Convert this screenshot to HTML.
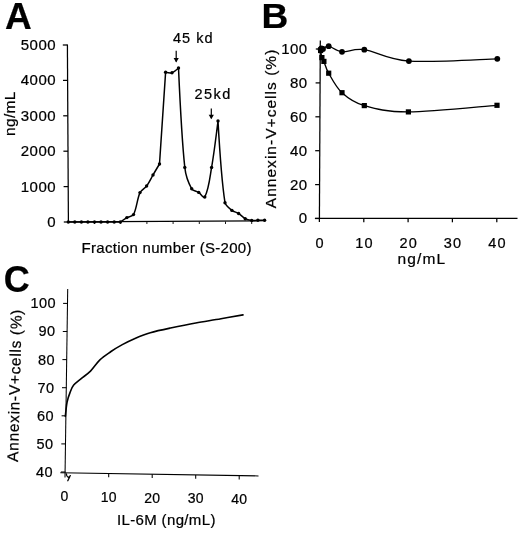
<!DOCTYPE html>
<html><head><meta charset="utf-8"><title>Figure</title>
<style>
html,body{margin:0;padding:0;background:#fff;}
svg{display:block;filter:blur(0.3px);}
text{font-family:"Liberation Sans",sans-serif;fill:#000;stroke:#000;stroke-width:0.22px;}
</style></head>
<body>
<svg width="520" height="535" viewBox="0 0 520 535">
<rect width="520" height="535" fill="#fff"/>
<text x="5.0" y="28.7" font-size="37" font-weight="bold">A</text>
<text transform="translate(261.5,28.0) scale(1.05,1)" font-size="35.3" font-weight="bold">B</text>
<text x="3.8" y="292.4" font-size="36" font-weight="bold">C</text>
<line x1="67.4" y1="44.5" x2="68.4" y2="222.5" stroke="#000" stroke-width="1.25"/>
<line x1="68.0" y1="221.9" x2="265.5" y2="220.7" stroke="#000" stroke-width="1.25"/>
<line x1="63.8" y1="222.0" x2="68.4" y2="222.0" stroke="#000" stroke-width="1.25"/>
<text x="56.0" y="227.0" font-size="15" text-anchor="end" letter-spacing="0.45">0</text>
<line x1="63.6" y1="186.6" x2="68.2" y2="186.6" stroke="#000" stroke-width="1.25"/>
<text x="56.0" y="191.6" font-size="15" text-anchor="end" letter-spacing="0.45">1000</text>
<line x1="63.4" y1="151.2" x2="68.0" y2="151.2" stroke="#000" stroke-width="1.25"/>
<text x="56.0" y="156.2" font-size="15" text-anchor="end" letter-spacing="0.45">2000</text>
<line x1="63.2" y1="115.8" x2="67.8" y2="115.8" stroke="#000" stroke-width="1.25"/>
<text x="56.0" y="120.8" font-size="15" text-anchor="end" letter-spacing="0.45">3000</text>
<line x1="63.0" y1="80.4" x2="67.6" y2="80.4" stroke="#000" stroke-width="1.25"/>
<text x="56.0" y="85.4" font-size="15" text-anchor="end" letter-spacing="0.45">4000</text>
<line x1="62.8" y1="45.0" x2="67.4" y2="45.0" stroke="#000" stroke-width="1.25"/>
<text x="56.0" y="50.0" font-size="15" text-anchor="end" letter-spacing="0.45">5000</text>
<line x1="94.5" y1="221.5" x2="94.5" y2="224.0" stroke="#000" stroke-width="0.9"/>
<line x1="120.7" y1="221.5" x2="120.7" y2="224.0" stroke="#000" stroke-width="0.9"/>
<line x1="146.9" y1="221.5" x2="146.9" y2="224.0" stroke="#000" stroke-width="0.9"/>
<line x1="173.1" y1="221.5" x2="173.1" y2="224.0" stroke="#000" stroke-width="0.9"/>
<line x1="199.3" y1="221.5" x2="199.3" y2="224.0" stroke="#000" stroke-width="0.9"/>
<line x1="225.5" y1="221.5" x2="225.5" y2="224.0" stroke="#000" stroke-width="0.9"/>
<line x1="251.7" y1="221.5" x2="251.7" y2="224.0" stroke="#000" stroke-width="0.9"/>
<path d="M68.3,222.0 C68.3,222.0 74.8,222.0 74.8,222.0 C74.8,222.0 81.4,222.0 81.4,222.0 C81.4,222.0 87.9,222.0 87.9,222.0 C87.9,222.0 94.5,222.0 94.5,222.0 C94.5,222.0 101.0,222.0 101.0,222.0 C101.0,222.0 107.6,222.0 107.6,222.0 C107.6,222.0 114.2,222.0 114.2,222.0 C114.2,222.0 120.3,222.0 120.3,222.0 C120.3,222.0 124.8,218.8 126.9,217.6 C128.8,216.5 132.5,216.5 133.5,214.6 C136.7,208.5 137.1,198.9 140.0,192.6 C141.2,190.1 144.9,188.3 146.6,186.0 C148.9,182.9 151.1,178.3 153.0,175.0 C154.9,171.7 159.5,164.0 159.5,164.0 C159.5,164.0 165.6,72.3 165.6,72.3 C165.6,72.3 170.2,73.4 172.0,72.8 C174.3,72.0 178.5,68.0 178.5,68.0 C178.5,68.0 181.6,137.7 184.8,167.4 C185.5,174.1 188.4,182.9 191.7,188.8 C192.8,190.9 196.7,191.1 198.7,192.4 C200.6,193.6 203.7,199.0 204.8,197.0 C209.0,188.9 210.0,176.4 211.6,167.4 C214.0,153.6 218.0,121.0 218.0,121.0 C218.0,121.0 221.2,178.4 225.0,202.7 C225.5,205.8 229.5,208.5 231.9,210.4 C233.6,211.8 236.7,212.3 238.6,213.5 C240.7,214.8 243.0,217.5 245.2,218.7 C247.0,219.7 249.7,220.2 251.7,220.5 C253.5,220.7 256.0,220.3 257.9,220.3 C259.9,220.3 264.6,220.3 264.6,220.3" fill="none" stroke="#000" stroke-width="1.5" stroke-linejoin="round" stroke-linecap="round"/>
<circle cx="68.3" cy="222.0" r="1.7" fill="#000"/>
<circle cx="74.8" cy="222.0" r="1.7" fill="#000"/>
<circle cx="81.4" cy="222.0" r="1.7" fill="#000"/>
<circle cx="87.9" cy="222.0" r="1.7" fill="#000"/>
<circle cx="94.5" cy="222.0" r="1.7" fill="#000"/>
<circle cx="101.0" cy="222.0" r="1.7" fill="#000"/>
<circle cx="107.6" cy="222.0" r="1.7" fill="#000"/>
<circle cx="114.2" cy="222.0" r="1.7" fill="#000"/>
<circle cx="120.3" cy="222.0" r="1.7" fill="#000"/>
<circle cx="126.9" cy="217.6" r="1.7" fill="#000"/>
<circle cx="133.5" cy="214.6" r="1.7" fill="#000"/>
<circle cx="140.0" cy="192.6" r="1.7" fill="#000"/>
<circle cx="146.6" cy="186.0" r="1.7" fill="#000"/>
<circle cx="153.0" cy="175.0" r="1.7" fill="#000"/>
<circle cx="159.5" cy="164.0" r="1.7" fill="#000"/>
<circle cx="165.6" cy="72.3" r="1.7" fill="#000"/>
<circle cx="172.0" cy="72.8" r="1.7" fill="#000"/>
<circle cx="178.5" cy="68.0" r="1.7" fill="#000"/>
<circle cx="184.8" cy="167.4" r="1.7" fill="#000"/>
<circle cx="191.7" cy="188.8" r="1.7" fill="#000"/>
<circle cx="198.7" cy="192.4" r="1.7" fill="#000"/>
<circle cx="204.8" cy="197.0" r="1.7" fill="#000"/>
<circle cx="211.6" cy="167.4" r="1.7" fill="#000"/>
<circle cx="218.0" cy="121.0" r="1.7" fill="#000"/>
<circle cx="225.0" cy="202.7" r="1.7" fill="#000"/>
<circle cx="231.9" cy="210.4" r="1.7" fill="#000"/>
<circle cx="238.6" cy="213.5" r="1.7" fill="#000"/>
<circle cx="245.2" cy="218.7" r="1.7" fill="#000"/>
<circle cx="251.7" cy="220.5" r="1.7" fill="#000"/>
<circle cx="257.9" cy="220.3" r="1.7" fill="#000"/>
<circle cx="264.6" cy="220.3" r="1.7" fill="#000"/>
<text x="173.0" y="43.3" font-size="14.5" letter-spacing="1.0">45 kd</text>
<text x="194.6" y="98.8" font-size="14.5" letter-spacing="1.4">25kd</text>
<line x1="176.2" y1="50.8" x2="176.2" y2="61.6" stroke="#000" stroke-width="1.2"/><path d="M173.6,58.1 L176.2,62.6 L178.79999999999998,58.1 Z" fill="#000"/>
<line x1="211.3" y1="108.4" x2="211.3" y2="118.2" stroke="#000" stroke-width="1.2"/><path d="M208.70000000000002,114.7 L211.3,119.2 L213.9,114.7 Z" fill="#000"/>
<text x="81.5" y="253.0" font-size="15" letter-spacing="0.3">Fraction number (S-200)</text>
<text transform="translate(15,135.9) rotate(-90)" font-size="15.5" letter-spacing="0.3" stroke-width="0.5">ng/mL</text>
<line x1="320.3" y1="40.5" x2="319.4" y2="222.0" stroke="#000" stroke-width="1.25"/>
<line x1="315.1" y1="218.3" x2="517.5" y2="218.3" stroke="#000" stroke-width="1.25"/>
<line x1="314.9" y1="218.5" x2="319.4" y2="218.5" stroke="#000" stroke-width="1.25"/>
<text x="307.6" y="223.4" font-size="15" text-anchor="end" letter-spacing="0.45">0</text>
<line x1="315.1" y1="184.6" x2="319.6" y2="184.6" stroke="#000" stroke-width="1.25"/>
<text x="307.6" y="189.5" font-size="15" text-anchor="end" letter-spacing="0.45">20</text>
<line x1="315.2" y1="150.7" x2="319.7" y2="150.7" stroke="#000" stroke-width="1.25"/>
<text x="307.6" y="155.6" font-size="15" text-anchor="end" letter-spacing="0.45">40</text>
<line x1="315.4" y1="116.8" x2="319.9" y2="116.8" stroke="#000" stroke-width="1.25"/>
<text x="307.6" y="121.7" font-size="15" text-anchor="end" letter-spacing="0.45">60</text>
<line x1="315.6" y1="82.9" x2="320.1" y2="82.9" stroke="#000" stroke-width="1.25"/>
<text x="307.6" y="87.8" font-size="15" text-anchor="end" letter-spacing="0.45">80</text>
<line x1="315.8" y1="49.0" x2="320.3" y2="49.0" stroke="#000" stroke-width="1.25"/>
<text x="307.6" y="53.9" font-size="15" text-anchor="end" letter-spacing="0.45">100</text>
<text x="320.1" y="247.6" font-size="14.5" text-anchor="middle" letter-spacing="1.2">0</text>
<line x1="363.8" y1="218.3" x2="363.8" y2="222.3" stroke="#000" stroke-width="1.25"/>
<text x="364.4" y="247.6" font-size="14.5" text-anchor="middle" letter-spacing="1.2">10</text>
<line x1="408.1" y1="218.3" x2="408.1" y2="222.3" stroke="#000" stroke-width="1.25"/>
<text x="408.8" y="247.6" font-size="14.5" text-anchor="middle" letter-spacing="1.2">20</text>
<line x1="452.4" y1="218.3" x2="452.4" y2="222.3" stroke="#000" stroke-width="1.25"/>
<text x="453.1" y="247.6" font-size="14.5" text-anchor="middle" letter-spacing="1.2">30</text>
<line x1="496.8" y1="218.3" x2="496.8" y2="222.3" stroke="#000" stroke-width="1.25"/>
<text x="497.5" y="247.6" font-size="14.5" text-anchor="middle" letter-spacing="1.2">40</text>
<text x="397.6" y="264.4" font-size="15.5" letter-spacing="1.1" stroke-width="0.55">ng/mL</text>
<text transform="translate(276.0,208.2) rotate(-90)" font-size="15.5" letter-spacing="1.03" stroke-width="0.6">Annexin-V+cells (%)</text>
<path d="M320.6,49.2 C320.8,49.1 321.1,48.5 321.5,48.5 C321.9,48.5 321.8,49.4 323.0,49.0 C324.2,48.6 325.5,45.7 328.7,46.2 C331.9,46.7 336.1,51.2 342.0,51.8 C347.9,52.4 353.2,48.2 364.3,49.7 C375.4,51.2 386.7,59.6 408.9,61.1 C431.1,62.6 482.6,59.2 497.3,58.8" fill="none" stroke="#000" stroke-width="1.35" stroke-linejoin="round" stroke-linecap="round"/>
<path d="M320.6,50.5 C320.8,51.7 321.3,55.8 321.9,57.6 C322.4,59.4 322.8,58.8 323.9,61.4 C325.0,64.0 325.7,68.0 328.7,73.2 C331.7,78.4 336.1,87.3 342.0,92.7 C347.9,98.1 353.2,102.4 364.3,105.6 C375.4,108.8 386.3,112.0 408.4,111.9 C430.5,111.9 482.2,106.4 497.0,105.3" fill="none" stroke="#000" stroke-width="1.35" stroke-linejoin="round" stroke-linecap="round"/>
<circle cx="320.6" cy="49.2" r="2.9" fill="#000"/>
<circle cx="321.5" cy="48.5" r="2.9" fill="#000"/>
<circle cx="323.0" cy="49.0" r="2.9" fill="#000"/>
<circle cx="328.7" cy="46.2" r="2.9" fill="#000"/>
<circle cx="342.0" cy="51.8" r="2.9" fill="#000"/>
<circle cx="364.3" cy="49.7" r="2.9" fill="#000"/>
<circle cx="408.9" cy="61.1" r="2.9" fill="#000"/>
<circle cx="497.3" cy="58.8" r="2.9" fill="#000"/>
<rect x="318.0" y="47.9" width="5.2" height="5.2" fill="#000"/>
<rect x="319.3" y="55.0" width="5.2" height="5.2" fill="#000"/>
<rect x="321.3" y="58.8" width="5.2" height="5.2" fill="#000"/>
<rect x="326.1" y="70.6" width="5.2" height="5.2" fill="#000"/>
<rect x="339.4" y="90.1" width="5.2" height="5.2" fill="#000"/>
<rect x="361.7" y="103.0" width="5.2" height="5.2" fill="#000"/>
<rect x="405.8" y="109.3" width="5.2" height="5.2" fill="#000"/>
<rect x="494.4" y="102.7" width="5.2" height="5.2" fill="#000"/>
<line x1="67.7" y1="289.0" x2="65.0" y2="477.5" stroke="#000" stroke-width="1.05"/>
<line x1="60.3" y1="472.7" x2="258.5" y2="475.9" stroke="#000" stroke-width="1.05"/>
<line x1="60.9" y1="472.0" x2="65.4" y2="472.0" stroke="#000" stroke-width="1.05"/>
<text x="53.1" y="476.9" font-size="14.5" text-anchor="end" letter-spacing="0.5">40</text>
<line x1="61.3" y1="443.9" x2="65.8" y2="443.9" stroke="#000" stroke-width="1.05"/>
<text x="53.6" y="448.8" font-size="14.5" text-anchor="end" letter-spacing="0.5">50</text>
<line x1="61.6" y1="415.8" x2="66.1" y2="415.8" stroke="#000" stroke-width="1.05"/>
<text x="54.1" y="420.7" font-size="14.5" text-anchor="end" letter-spacing="0.5">60</text>
<line x1="62.0" y1="387.7" x2="66.5" y2="387.7" stroke="#000" stroke-width="1.05"/>
<text x="54.6" y="392.6" font-size="14.5" text-anchor="end" letter-spacing="0.5">70</text>
<line x1="62.4" y1="359.6" x2="66.9" y2="359.6" stroke="#000" stroke-width="1.05"/>
<text x="55.1" y="364.5" font-size="14.5" text-anchor="end" letter-spacing="0.5">80</text>
<line x1="62.8" y1="331.5" x2="67.2" y2="331.5" stroke="#000" stroke-width="1.05"/>
<text x="55.6" y="336.4" font-size="14.5" text-anchor="end" letter-spacing="0.5">90</text>
<line x1="63.1" y1="303.4" x2="67.6" y2="303.4" stroke="#000" stroke-width="1.05"/>
<text x="56.1" y="308.3" font-size="14.5" text-anchor="end" letter-spacing="0.5">100</text>
<text x="64.4" y="501.4" font-size="14" text-anchor="middle" letter-spacing="0.15">0</text>
<line x1="108.7" y1="473.5" x2="108.7" y2="477.3" stroke="#000" stroke-width="1.05"/>
<text x="108.7" y="502.0" font-size="14" text-anchor="middle" letter-spacing="0.15">10</text>
<line x1="152.2" y1="474.2" x2="152.2" y2="478.0" stroke="#000" stroke-width="1.05"/>
<text x="152.2" y="502.7" font-size="14" text-anchor="middle" letter-spacing="0.15">20</text>
<line x1="195.7" y1="474.9" x2="195.7" y2="478.7" stroke="#000" stroke-width="1.05"/>
<text x="195.7" y="503.3" font-size="14" text-anchor="middle" letter-spacing="0.15">30</text>
<line x1="239.2" y1="475.6" x2="239.2" y2="479.4" stroke="#000" stroke-width="1.05"/>
<text x="239.2" y="504.0" font-size="14" text-anchor="middle" letter-spacing="0.15">40</text>
<text x="117.0" y="525.0" font-size="15" letter-spacing="0.35" stroke-width="0.55">IL-6M (ng/mL)</text>
<text transform="translate(17.9,461.9) rotate(-88.5)" font-size="15.5" letter-spacing="0.68" stroke-width="0.7">Annexin-V+cells (%)</text>
<path d="M65.3,416.4 C65.6,414.0 66.3,406.0 67.1,402.0 C67.9,398.0 68.9,395.4 70.0,392.6 C71.1,389.8 71.8,387.4 73.7,385.1 C75.6,382.8 78.4,380.9 81.2,378.6 C84.0,376.3 87.4,374.2 90.5,371.1 C93.6,368.0 96.5,363.2 99.9,359.9 C103.3,356.6 107.3,354.1 111.0,351.5 C114.7,348.9 118.3,346.8 122.3,344.6 C126.3,342.4 130.3,340.4 135.0,338.4 C139.7,336.4 144.4,334.4 150.3,332.7 C156.2,331.0 162.9,329.6 170.5,328.0 C178.1,326.4 187.4,324.5 195.8,323.0 C204.2,321.5 213.1,320.2 221.0,318.8 C228.9,317.4 239.3,315.5 243.0,314.9" fill="none" stroke="#000" stroke-width="1.6" stroke-linejoin="round" stroke-linecap="round"/>
<path d="M66.4,474.0 C66.6,477.6 69.2,478.2 70.3,475.6 M69.9,476.4 L67.8,480.7" fill="none" stroke="#000" stroke-width="1.3" stroke-linejoin="round" stroke-linecap="round"/>
</svg>
</body></html>
